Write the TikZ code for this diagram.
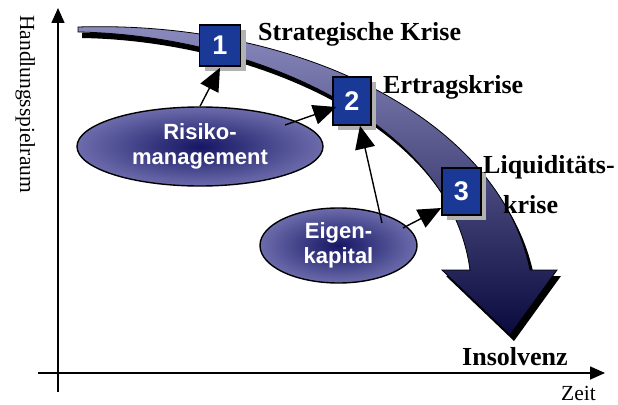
\documentclass[tikz,border=0pt]{standalone}
\usepackage{fontspec}
\setmainfont{Liberation Serif}
\newfontfamily\arialfam{Liberation Sans}
\usetikzlibrary{arrows.meta,calc,shapes.geometric,shadows}
\definecolor{boxblue}{RGB}{26,56,150}
\definecolor{arrtop}{RGB}{140,140,192}
\definecolor{arrmid}{RGB}{78,78,122}
\definecolor{arrbot}{RGB}{10,10,62}
\definecolor{ellin}{RGB}{22,22,100}
\definecolor{ellout}{RGB}{108,108,172}
\begin{document}
\begin{tikzpicture}[x=1pt,y=-1pt,
  numbox/.style={draw=black,line width=1.5pt,fill=boxblue,text=white,
    font=\arialfam\bfseries\fontsize{27}{27}\selectfont,inner sep=0pt,
    drop shadow={shadow xshift=5pt,shadow yshift=-5pt,fill=gray!60,opacity=1}},
  oval/.style={ellipse,draw=black,line width=1.4pt,inner color=ellin,outer color=ellout,
    inner sep=0pt,text=white,font=\arialfam\bfseries\fontsize{22}{25}\selectfont,align=center},
  crisis/.style={font=\bfseries\fontsize{26}{30}\selectfont,anchor=base west,inner sep=0pt},
  plain/.style={font=\fontsize{21.5}{24}\selectfont,inner sep=0pt},
  axisline/.style={line width=1.6pt,-{Triangle[length=15pt,width=13pt]}},
  link/.style={line width=1.4pt,-{Triangle[length=23pt,width=20pt]}},
]
\useasboundingbox (0,0) rectangle (618,404);

% axes
\coordinate (yo) at (58,392);
\coordinate (yt) at (58,8);
\coordinate (xo) at (38,373);
\coordinate (xt) at (605,373);
\draw[axisline] (yo) -- (yt);
\draw[axisline] (xo) -- (xt);
\node[plain,rotate=-90,anchor=base west] (ylab) at (20,15) {Handlungsspielraum};
\node[plain,anchor=base west] (xlab) at (561,400) {Zeit};

% big curved arrow: shadow and body
\fill[black,shift={(4,6)}] (78,27) .. controls (300,20) and (500,120) .. (530,270)
  -- (557,270) -- (510,335) -- (442,270) -- (470,270)
  .. controls (450,120) and (250,35) .. (78,32) -- cycle;
\shadedraw[draw=black,line width=0.8pt,top color=arrtop,middle color=arrmid,bottom color=arrbot]
  (78,27) .. controls (300,20) and (500,120) .. (530,270)
  -- (557,270) -- (510,335) -- (442,270) -- (470,270)
  .. controls (450,120) and (250,35) .. (78,32) -- cycle;

% crisis boxes
\node[numbox,minimum width=41pt,minimum height=41pt] (b1) at (220,45.5) {1};
\node[numbox,minimum width=38pt,minimum height=48pt] (b2) at (352,101) {2};
\node[numbox,minimum width=39pt,minimum height=47pt] (b3) at (461.5,191.5) {3};

% labels
\node[crisis] (sk) at (258,41) {Strategische Krise};
\node[crisis] (ek) at (383,93) {Ertragskrise};
\node[crisis] (lk1) at (483,173) {Liquiditäts-};
\node[crisis] (lk2) at (503,213) {krise};
\node[crisis] (ins) at (462,365) {Insolvenz};

% ellipses
\node[oval,minimum width=246pt,minimum height=79pt] (risk) at (200,146.5) {Risiko-\\management};
\node[oval,minimum width=157pt,minimum height=75pt] (eq) at (338.5,245.5) {Eigen-\\kapital};

% connectors
\coordinate (r2) at (285,125);
\coordinate (e1) at (382,223);
\coordinate (e2) at (403,228);
\draw[link] (risk.north) -- ($(b1.south)+(0,1)$);
\draw[link] (r2) -- ($(b2.west)+(4,6)$);
\draw[link] (e1) -- ($(b2.south)+(8,0)$);
\draw[link] (e2) -- ($(b3.west)+(0,16.5)$);
\end{tikzpicture}
\end{document}
